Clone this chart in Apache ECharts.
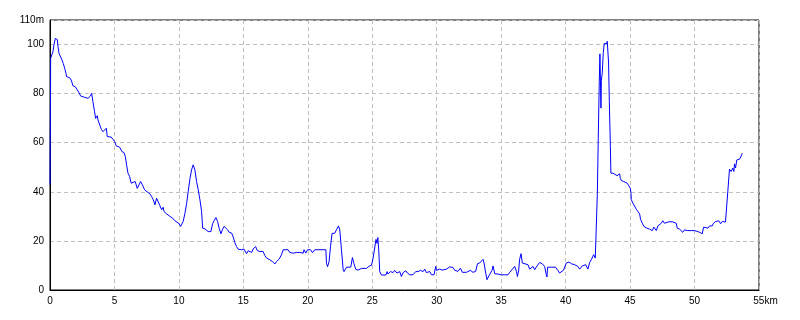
<!DOCTYPE html>
<html>
<head>
<meta charset="utf-8">
<script src="https://cdn.jsdelivr.net/npm/echarts@6/dist/echarts.min.js"></script>
<style>
html,body{margin:0;padding:0;background:#fff;}
#chart{width:800px;height:320px;}
</style>
</head>
<body>
<div id="chart"></div>
<script>
// Elevation profile: [distance km, elevation m]
const seg0to10 = [[0,43],[0.04,80],[0.05,94.4],[0.23,97.1],[0.31,99.9],[0.41,102.5],[0.52,103.3],[0.57,102],[0.62,99.2],[0.70,96.4],[0.83,95.8],[0.93,93.7],[1.03,92.3],[1.14,90.3],[1.24,88.2],[1.29,86.9],[1.52,86.5],[1.65,85.5],[1.78,83.2],[1.96,82.8],[2.12,81.5],[2.25,80.4],[2.38,79],[2.51,79.5],[2.69,78.5],[2.95,78.1],[3.13,79],[3.23,80.1],[3.33,76.7],[3.46,72.6],[3.54,69.9],[3.67,71],[3.72,69.3],[3.85,69.3],[3.98,65.5],[4.11,64.5],[4.24,65.2],[4.37,65.9],[4.44,62.5],[4.75,62.3],[4.88,61.4],[5.01,60.5],[5.14,58.7],[5.40,58.2],[5.58,56.4],[5.74,56],[5.84,54.4],[5.94,51],[6.05,47.6],[6.18,46.2],[6.30,43.5],[6.43,44.2],[6.61,44.2],[6.77,41.4],[6.92,41.4],[7.03,44.2],[7.16,42.9],[7.34,40.8],[7.54,40],[7.75,39.2],[7.88,38.1],[8.01,36.8],[8.14,34.7],[8.27,37.4],[8.40,36.8],[8.53,34.3],[8.66,32.7],[8.78,33.7],[8.84,32],[9.05,31],[9.17,31.3],[9.30,30],[9.51,29.3],[9.69,28.2],[9.82,27.9],[10.02,27],[10.13,25.9]];
const seg10to20 = [[10.33,27.9],[10.47,31.3],[10.60,35.3],[10.72,40.1],[10.85,45.1],[10.98,48.9],[11.11,51],[11.24,48.9],[11.37,44.2],[11.50,40.8],[11.63,36.8],[11.76,32],[11.84,25.2],[12.02,24.9],[12.15,24.5],[12.27,23.8],[12.48,23.8],[12.61,27],[12.74,28.3],[12.87,29.5],[13.0,27.9],[13.12,25.2],[13.26,22.9],[13.39,24.8],[13.51,25.9],[13.64,25.6],[13.78,24.5],[13.90,23.5],[14.09,23.2],[14.21,21.6],[14.34,19.3],[14.47,17.7],[14.60,16.6],[14.86,16.4],[15.04,16.7],[15.14,17.1],[15.25,14.8],[15.37,16],[15.50,16.4],[15.64,15.3],[15.76,16.7],[15.95,17.7],[16.07,16.1],[16.28,15.7],[16.53,15.7],[16.67,14],[16.80,13],[17.05,12.3],[17.26,11.6],[17.44,10.6],[17.57,11.6],[17.78,12.6],[17.96,14.4],[18.09,16.4],[18.47,16.4],[18.60,15.3],[18.74,16],[18.86,15],[19.12,15.3],[19.38,15.3],[19.64,15],[19.71,16.4],[19.84,15],[19.98,16.4]];
const seg20to30 = [[20.10,15.7],[20.21,16.4],[20.36,15.2],[20.54,16.4],[20.72,16.4],[21.40,16.4],[21.45,10.9],[21.53,9.5],[21.65,11.6],[21.76,17.7],[21.88,23.1],[22.09,23.1],[22.22,24.5],[22.38,26.1],[22.48,24.5],[22.61,16.4],[22.74,8.4],[22.81,7.5],[23.0,9.3],[23.33,9.3],[23.46,13.2],[23.57,10.9],[23.72,8.4],[23.90,8.1],[24.16,8.8],[24.55,8.8],[24.63,8.1],[24.75,9.7],[24.94,10.1],[25.06,12.8],[25.19,12.1],[25.29,20.6],[25.37,19],[25.43,21.4],[25.50,16.4],[25.58,7.5],[25.71,6.1],[26.05,6.1],[26.15,7.5],[26.22,6.5],[26.41,7.5],[26.61,7.1],[26.74,8],[26.92,6.9],[27.13,7.5],[27.26,5.5],[27.39,7.1],[27.60,7.8],[27.73,6.9],[27.91,6.2],[28.16,6.2],[28.37,7.5],[28.55,7.5],[28.74,8],[28.94,7.5],[29.07,8.5],[29.20,7.1],[29.33,6.9],[29.46,7.5],[29.59,6.2],[29.79,6.2],[29.92,9.6],[29.98,8]];
const seg30to42 = [[30.23,8.5],[30.44,8.1],[30.54,8.9],[30.75,8.5],[31.01,9.4],[31.26,9.2],[31.40,8],[31.53,8.6],[31.65,7.6],[31.84,8.9],[31.99,7.2],[32.30,7.2],[32.61,8],[32.81,7.2],[33.02,7.6],[33.16,10.7],[33.33,11],[33.46,10.7],[33.59,12.5],[33.67,11],[33.80,6.9],[33.90,4.2],[34.05,5.8],[34.16,6.5],[34.29,8],[34.37,9.8],[34.50,6.6],[34.75,6.5],[35.02,6.2],[35.14,5.5],[35.27,6.2],[35.53,6.2],[35.66,7.2],[35.87,8.5],[36.05,9.6],[36.18,7.6],[36.26,5.5],[36.36,8.1],[36.43,12.5],[36.54,14.8],[36.64,11],[36.74,10.3],[37.08,10.3],[37.21,8.5],[37.34,9.3],[37.47,9.6],[37.60,8.3],[37.78,9.8],[37.98,11.2],[38.19,10.7],[38.37,9.6],[38.50,6.2],[38.55,5.3],[38.60,9.3],[38.89,9.3],[39.22,9.3],[39.40,8],[39.53,6.9],[39.67,6.6],[39.84,8.1],[40.05,11],[40.26,11.4],[40.44,10.7],[40.70,10.3],[40.95,9.6],[41.09,8.5],[41.29,9.8],[41.55,10.3],[41.73,8.5],[41.86,11.2],[41.99,12.3],[42.17,14.4],[42.30,13],[42.43,13]];
const seg42to45 = [[42.46,39.4],[42.53,61.8],[42.61,85],[42.66,96.2],[42.74,74.1],[42.77,85.5],[42.84,88.3],[42.92,96.8],[43.0,100.5],[43.08,100.8],[43.16,100.3],[43.23,101.3],[43.28,100.5],[43.33,92.5],[43.39,76.8],[43.47,58.5],[43.51,47.6],[43.67,47.6],[43.80,46.9],[43.98,46.6],[44.19,47.3],[44.24,45.5],[44.32,44.6],[44.50,44.2],[44.63,43.5],[44.78,43.5],[44.91,42.4],[45.02,41.4],[45.07,39.4],[45.09,36.8],[45.22,35.4]];
const seg45to54 = [[45.35,34.7],[45.48,32.9],[45.60,32],[45.74,31],[45.81,28.8],[45.95,27.2],[46.07,25.9],[46.20,26.1],[46.30,25.2],[46.51,24.8],[46.72,24.2],[46.85,25.6],[46.98,26.1],[47.03,24.2],[47.16,26.1],[47.29,26.5],[47.42,27.2],[47.54,28.2],[47.67,27.2],[47.81,27.5],[48.01,27.8],[48.12,27.2],[48.27,27.8],[48.58,27.2],[48.66,25.2],[48.84,24.8],[48.97,25.2],[49.09,23.5],[49.22,24.5],[49.36,25.2],[49.48,24.2],[49.74,24.2],[49.87,24.8],[50.0,24.2],[50.13,24.5],[50.26,23.8],[50.44,23.4],[50.60,22.9],[50.70,25.6],[50.85,25.2],[51.03,25.2],[51.16,26.1],[51.37,26.1],[51.47,27.2],[51.63,27.9],[51.76,27.5],[51.88,28.2],[52.02,27],[52.15,27.9],[52.27,27.2],[52.40,27.7],[52.53,27.9],[52.58,40.1],[52.71,49.2],[52.84,48.3],[52.97,49.7],[53.05,48.3],[53.10,51.4],[53.18,49.7],[53.28,53],[53.49,53.3],[53.62,54.6],[53.70,55.7]];

const xMax = 55, xStep = 5, xUnit = 'km';
const yMax = 110, yStep = 20, yUnit = 'm';

const profile = [].concat(seg0to10, seg10to20, seg20to30, seg30to42, seg42to45, seg45to54);

const chart = echarts.init(document.getElementById('chart'), null, {renderer: 'canvas'});
const labelFont = {fontFamily: 'Liberation Sans', fontSize: 10, color: '#000'};
chart.setOption({
  animation: false,
  backgroundColor: '#fff',
  grid: {left: 50, right: 41, top: 20, bottom: 30, containLabel: false, outerBoundsMode: 'none',
         show: true, borderColor: '#000', borderWidth: 1},
  xAxis: {
    type: 'value', min: 0, max: xMax, interval: xStep,
    axisLine: {show: true, lineStyle: {color: '#000', width: 1}},
    axisTick: {show: false},
    splitLine: {show: true, lineStyle: {color: '#c0c0c0', type: [4, 3], width: 1}},
    axisLabel: Object.assign({margin: 6, showMaxLabel: true, showMinLabel: true,
      formatter: v => v === xMax ? '{p|}' + v + xUnit : String(v),
      rich: {p: {width: 13}}}, labelFont)
  },
  yAxis: {
    type: 'value', min: 0, max: yMax, interval: yStep,
    axisLine: {show: true, lineStyle: {color: '#000', width: 1}},
    axisTick: {show: false},
    splitLine: {show: true, lineStyle: {color: '#c0c0c0', type: [4, 3], width: 1}},
    axisLabel: Object.assign({margin: 6, showMaxLabel: true, showMinLabel: true,
      formatter: v => v === yMax ? v + yUnit : String(v)}, labelFont)
  },
  series: [{
    type: 'line',
    data: profile,
    showSymbol: false,
    symbol: 'none',
    smooth: false,
    lineStyle: {color: '#0000ff', width: 1},
    clip: true
  }]
});
</script>
</body>
</html>
